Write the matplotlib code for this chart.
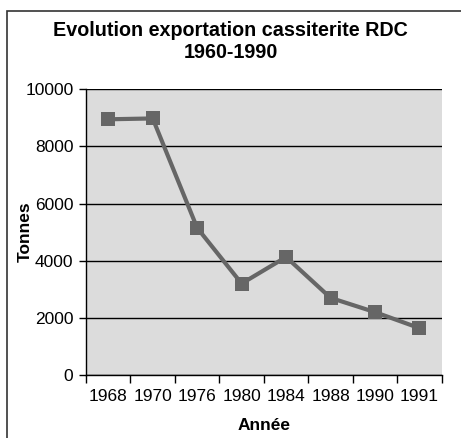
import matplotlib
matplotlib.use("Agg")
import matplotlib.pyplot as plt
from matplotlib.patches import Rectangle

# data
annees = ["1968", "1970", "1976", "1980", "1984", "1988", "1990", "1991"]
tonnes = [8950, 8980, 5150, 3200, 4130, 2700, 2200, 1640]
y_ticks = [0, 2000, 4000, 6000, 8000, 10000]

plt.rcParams["font.family"] = ["Liberation Sans", "DejaVu Sans"]
TICK_FONT = ["Liberation Sans Narrow", "Liberation Sans"]

W, H = 461, 438
fig = plt.figure(figsize=(W / 100, H / 100), dpi=100)
ax = fig.add_axes([86 / W, 1 - 375 / H, (441.7 - 86) / W, (375 - 89.3) / H])

# outer frame around the whole chart
fig.patches.append(Rectangle((7 / W, -0.05), 1.1, 1 - 11 / H + 0.05,
                             transform=fig.transFigure, fill=False,
                             edgecolor="#333333", linewidth=1.2, zorder=0))

x = range(len(annees))
ax.set_facecolor("#dcdcdc")
ax.plot(x, tonnes, color="#666666", linewidth=3, marker="s",
        markersize=10, markeredgewidth=0, zorder=3)

ax.set_xlim(-0.5, len(annees) - 0.5)
ax.set_ylim(0, 10000)
ax.set_yticks(y_ticks)
ax.set_yticklabels([str(v) for v in y_ticks], fontsize=12.5, family=TICK_FONT)
ax.yaxis.grid(True, color="black", linewidth=1)
ax.set_axisbelow(True)

# category ticks on the boundaries, labels centred under the points
ax.set_xticks([i - 0.5 for i in range(len(annees) + 1)])
ax.set_xticklabels([])
ax.set_xticks(list(x), minor=True)
ax.set_xticklabels(annees, minor=True, fontsize=12.5, family=TICK_FONT)
ax.tick_params(axis="x", which="minor", length=0, pad=10)
ax.tick_params(axis="x", which="major", length=6, width=1, direction="out")
ax.tick_params(axis="y", length=5, width=1, pad=4)

for s in ["top", "right"]:
    ax.spines[s].set_visible(False)
ax.spines["left"].set_linewidth(1)
ax.spines["bottom"].set_linewidth(1)

ax.set_xlabel("Année", fontsize=12.5, fontweight="bold", va="center")
ax.set_ylabel("Tonnes", fontsize=12.5, fontweight="bold", va="center")
ax.xaxis.set_label_coords(0.5, -(426 - 375) / (375 - 89.3))
ax.yaxis.set_label_coords(-(86 - 25.6) / (441.7 - 86), 0.5)

fig.text(0.5, 1 - 31 / H, "Evolution exportation cassiterite RDC",
         ha="center", va="center", fontsize=14.2, fontweight="bold")
fig.text(0.5, 1 - 52 / H, "1960-1990",
         ha="center", va="center", fontsize=14.2, fontweight="bold")

fig.savefig("out.png", dpi=100)
